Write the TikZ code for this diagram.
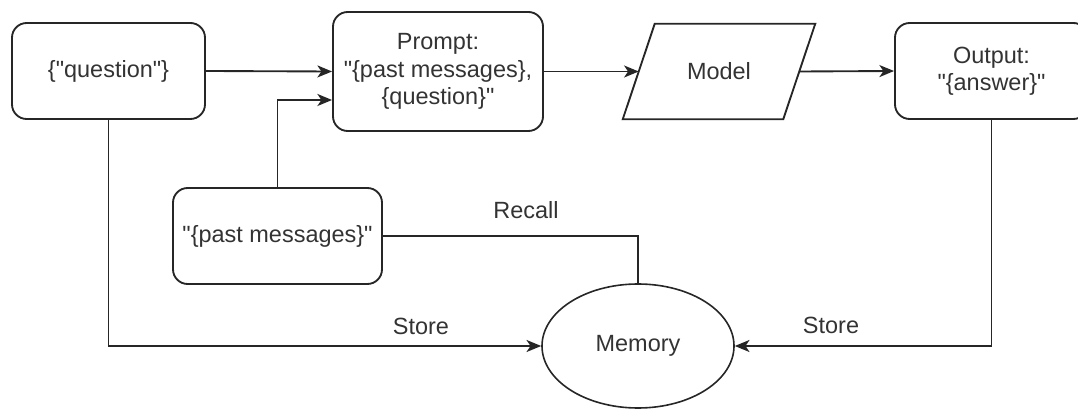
\documentclass[tikz,border=0pt]{standalone}
\usepackage{fontspec}
\setmainfont{Liberation Sans}[Ligatures=TeXOff]
\usetikzlibrary{arrows.meta,calc,shapes.geometric}
\begin{document}
\begin{tikzpicture}[x=0.75pt,y=-0.75pt,
  txt/.style={text=black!80, font=\fontsize{17.6}{20.5}\selectfont},
  box/.style={txt, draw=black!85, line width=1.4pt, rounded corners=11pt, align=center, inner sep=0pt},
  arr/.style={draw=black!85, line width=1.4pt, -{Stealth[length=11pt,width=9pt,inset=3pt]}},
  ln/.style={draw=black!85, line width=1.4pt},
  lbl/.style={txt}]
\clip (0,0) rectangle (1078,409);
\node[box, minimum width=144.75pt, minimum height=72pt] (q) at (108.5,71) {\{"question"\}};
\node[box, minimum width=157.5pt, minimum height=89.25pt] (prompt) at (438,71.5) {Prompt:\\"\{past messages\},\\\{question\}"};
\node[txt, minimum width=120pt, minimum height=71.25pt, inner sep=0pt] (model) at (719,71.5) {Model};
\draw[ln, line join=miter] ($(model.north west)+(16,0)$) -- ($(model.north east)+(16,0)$) -- ($(model.south east)+(-16,0)$) -- ($(model.south west)+(-16,0)$) -- cycle;
\node[box, minimum width=144.75pt, minimum height=72pt] (out) at (991.5,71) {Output:\\"\{answer\}"};
\node[box, minimum width=156.75pt, minimum height=72pt] (past) at (277.5,236) {"\{past messages\}"};
\node[txt, ellipse, draw=black!85, line width=1.2pt, minimum width=144pt, minimum height=93pt, inner sep=0pt] (mem) at (638,346) {Memory};

\draw[arr] (q.east) -- (prompt.west);
\draw[arr] (past.north) |- ($(prompt.west)+(0,28.5)$);
\draw[arr] (prompt.east) -- (model.west);
\draw[arr] (model.east) -- (out.west);
\draw[ln] (past.east) -| (mem.north);
\draw[arr] (q.south) |- (mem.west);
\draw[arr] (out.south) |- (mem.east);

\node[lbl] (recall) at (526,210) {Recall};
\node[lbl] (storel) at (421,326) {Store};
\node[lbl] (storer) at (831,325) {Store};
\end{tikzpicture}
\end{document}
